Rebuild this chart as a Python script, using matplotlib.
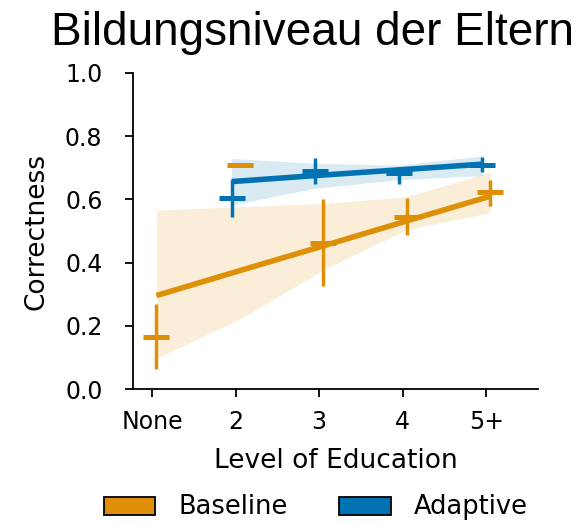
import numpy as np
import matplotlib
matplotlib.use('Agg')
import matplotlib.pyplot as plt
from matplotlib.patches import Patch

# Education levels on the x axis
categories = ['None', '2', '3', '4', '5+']

# Baseline: mean correctness per level with error bar ends
baseline_mean = [0.165, 0.707, 0.463, 0.545, 0.622]
baseline_lo = [0.063, 0.707, 0.326, 0.488, 0.580]
baseline_hi = [0.268, 0.707, 0.600, 0.603, 0.661]

# Adaptive: no participants in the "None" group
adaptive_levels = ['2', '3', '4', '5+']
adaptive_mean = [0.604, 0.689, 0.682, 0.710]
adaptive_lo = [0.543, 0.650, 0.648, 0.687]
adaptive_hi = [0.661, 0.731, 0.703, 0.733]

# Regression fits and their confidence bands, evaluated at each level
baseline_fit = [0.296, 0.375, 0.453, 0.532, 0.610]
baseline_band_lo = [0.098, 0.222, 0.377, 0.505, 0.558]
baseline_band_hi = [0.566, 0.577, 0.587, 0.608, 0.687]

adaptive_fit = [0.656, 0.675, 0.693, 0.711]
adaptive_band_lo = [0.582, 0.635, 0.662, 0.675]
adaptive_band_hi = [0.729, 0.714, 0.708, 0.737]

ORANGE = '#DE8F05'
BLUE = '#0173B2'

fig = plt.figure(figsize=(5.8, 5.23), dpi=100)
ax = fig.add_axes([133 / 580, 1 - 389.3 / 523, 405 / 580, 316.6 / 523])

pos = {c: i for i, c in enumerate(categories)}


def draw_series(levels, mean, lo, hi, fit, band_lo, band_hi, color, shift):
    x = np.array([pos[c] for c in levels], dtype=float) + shift
    mean = np.array(mean)
    ax.fill_between(x, band_lo, band_hi, color=color, alpha=0.15, lw=0, zorder=1)
    ax.plot(x, fit, color=color, lw=4, solid_capstyle='butt', zorder=3)
    yerr = [mean - np.array(lo), np.array(hi) - mean]
    ax.errorbar(x, mean, yerr=yerr, fmt='_', color=color, ecolor=color,
                elinewidth=2.5, markersize=19, mew=3.6, capsize=0, zorder=4)


draw_series(categories, baseline_mean, baseline_lo, baseline_hi,
            baseline_fit, baseline_band_lo, baseline_band_hi, ORANGE, 0.05)
draw_series(adaptive_levels, adaptive_mean, adaptive_lo, adaptive_hi,
            adaptive_fit, adaptive_band_lo, adaptive_band_hi, BLUE, -0.05)

ax.set_xlim(-0.23, 4.62)
ax.set_ylim(0, 1)
ax.set_xticks(range(len(categories)))
ax.set_xticklabels(categories)
ax.set_yticks(np.arange(0, 1.01, 0.2))
ax.set_yticklabels([f'{v:.1f}' for v in np.arange(0, 1.01, 0.2)])

for side in ['top', 'right']:
    ax.spines[side].set_visible(False)
for side in ['left', 'bottom']:
    ax.spines[side].set_linewidth(1.3)
ax.tick_params(axis='both', length=6, width=1.3, labelsize=17)
ax.tick_params(axis='y', pad=16)
ax.tick_params(axis='x', pad=9)

ax.set_xlabel('Level of Education', fontsize=19, labelpad=10)
ax.set_ylabel('Correctness', fontsize=19, labelpad=11)
ax.set_title('Bildungsniveau der Eltern', fontsize=33, family='Liberation Sans',
             x=0.443, pad=20)

handles = [Patch(facecolor=ORANGE, edgecolor='black', lw=1.3, label='Baseline'),
           Patch(facecolor=BLUE, edgecolor='black', lw=1.3, label='Adaptive')]
fig.legend(handles=handles, loc='center', ncol=2, frameon=False, fontsize=18.5,
           handletextpad=0.9, bbox_to_anchor=(316 / 580, 1 - 507.5 / 523))

fig.savefig('out.png', dpi=100)
